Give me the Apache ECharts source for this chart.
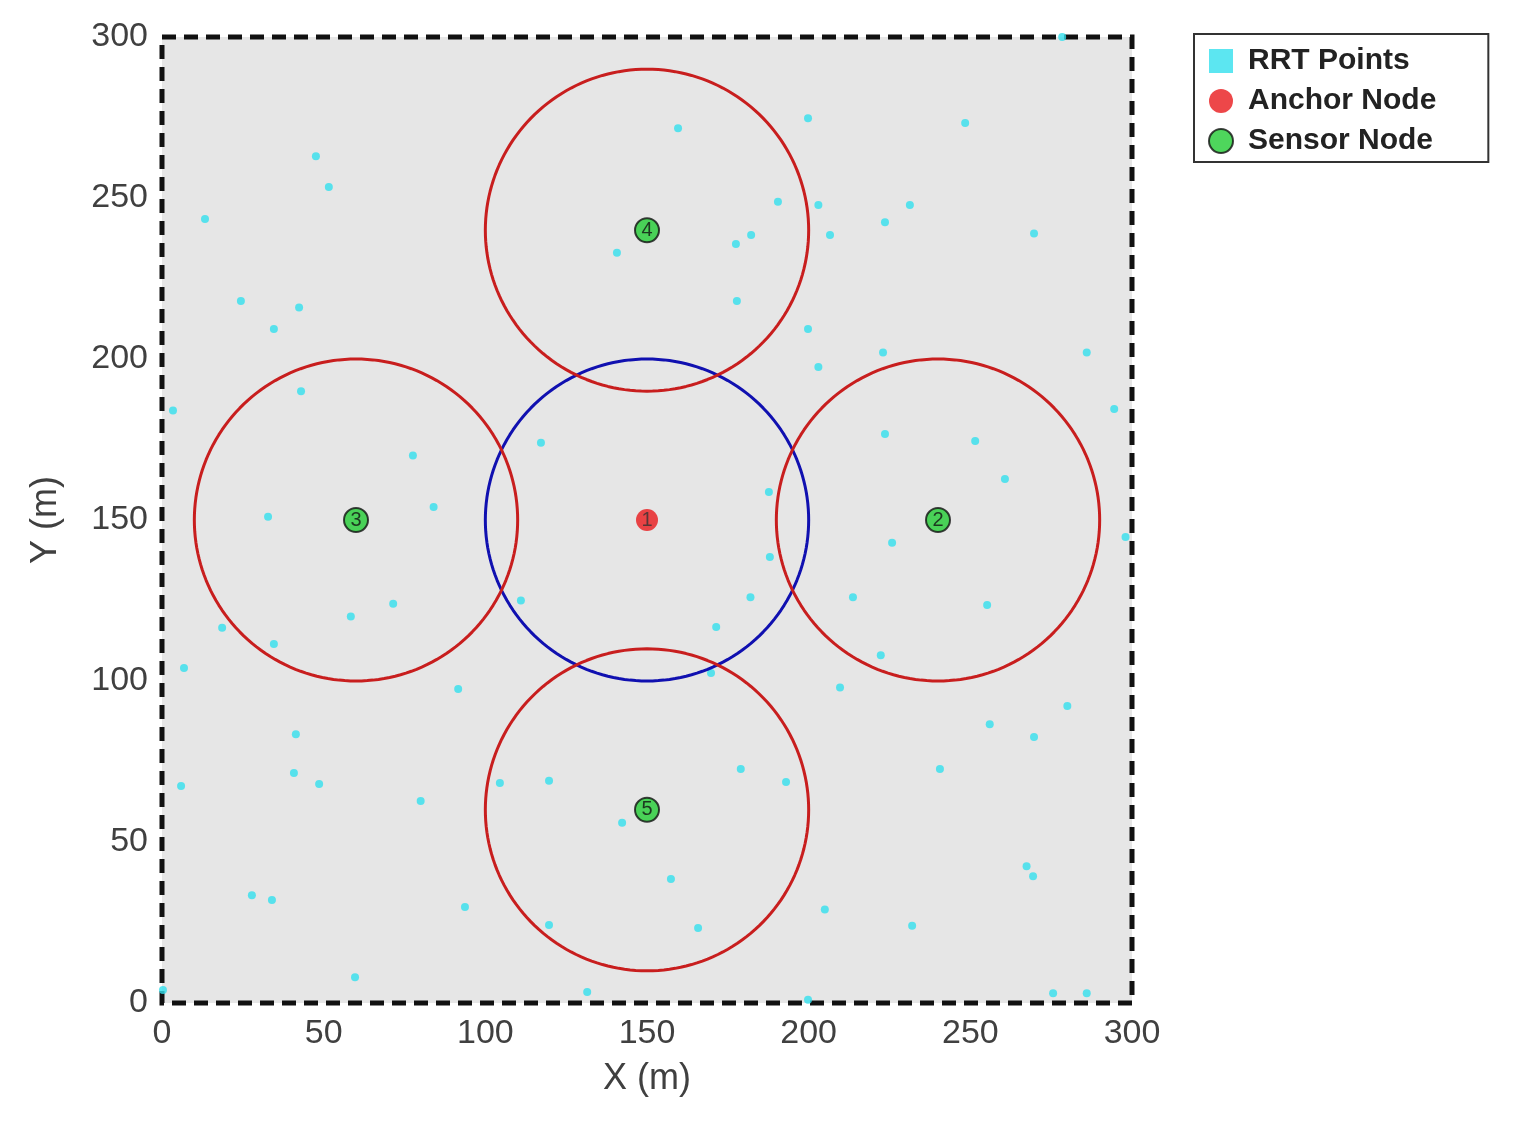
<!DOCTYPE html>
<html>
<head>
<meta charset="utf-8">
<script src="https://cdn.jsdelivr.net/npm/echarts@6/dist/echarts.min.js"></script>
<style>html,body{margin:0;padding:0;background:#fff}#chart{width:1540px;height:1139px}</style>
</head>
<body>
<div id="chart"></div>
<script>
// RRT sample points [x, y]
const rrtPoints = [
  [47.6,263],[51.6,253.4],[13.3,243.5],[24.4,218],[42.4,216],[34.6,209.3],[43,190],[3.4,184],
  [77.6,170],[84,154],[32.8,151],[71.5,124],[58.4,120],[34.6,111.5],[18.6,116.5],[6.8,104],
  [91.6,97.5],[41.4,83.5],[40.8,71.4],[48.6,68],[5.9,67.4],[80,62.7],[27.8,33.5],[34,32],
  [59.7,8],[0.3,4],[93.7,29.8],[104.5,68.3],[119.7,69],[119.7,24.2],[131.5,3.4],[142.3,56],
  [157.4,38.5],[165.8,23.3],[179,72.7],[193,68.6],[199.8,1],[205,29],[209.7,98],[169.8,102.5],
  [171.4,116.8],[182,126],[188,138.5],[187.7,158.7],[111,125],[117.2,174],[140.7,233],[159.6,271.7],
  [177.5,235.7],[182.2,238.5],[177.8,218],[190.5,248.8],[199.8,274.8],[203,247.8],[206.6,238.5],
  [199.8,209.3],[203,197.5],[223,202],[223.6,242.5],[231.3,247.8],[248.4,273.3],[269.7,239],
  [286,202],[294.5,184.5],[251.5,174.5],[223.6,176.7],[260.7,162.7],[225.8,142.9],[213.7,126],
  [255.2,123.6],[222.3,108],[298,144.7],[256,86.6],[269.7,82.6],[280,92.2],[240.6,72.7],
  [267.4,42.5],[269.4,39.4],[232,24],[275.6,3],[286,3],[278.4,300]
];
const anchorNodes = [[150,150,'1']];
const sensorNodes = [[240,150,'2'],[60,150,'3'],[150,240,'4'],[150,60,'5']];
const commRadius = 50;

function circle(cx, cy, r) {
  const pts = [];
  for (let i = 0; i <= 180; i++) {
    const a = i / 180 * Math.PI * 2;
    pts.push([cx + r * Math.cos(a), cy + r * Math.sin(a)]);
  }
  return pts;
}
function ring(c, color) {
  return {
    type: 'line', data: circle(c[0], c[1], commRadius), showSymbol: false, silent: true,
    lineStyle: { color: color, width: 3 }, z: 3
  };
}

const chart = echarts.init(document.getElementById('chart'));
const axisLbl = { color: '#404040', fontSize: 34, fontFamily: 'Arial' };
const option = {
  animation: false,
  grid: { left: 162, right: 408, top: 37, bottom: 136, show: true,
    backgroundColor: '#e6e6e6', borderColor: '#111', borderWidth: 5, borderType: [14, 8] },
  legend: {
    orient: 'vertical', left: 1194, top: 34, width: 326, padding: [12, 52, 6, 14], itemGap: 10,
    borderColor: '#333', borderWidth: 2, backgroundColor: '#fff',
    textStyle: { fontSize: 30, fontWeight: 'bold', color: '#222', fontFamily: 'Arial' },
    itemWidth: 44, itemHeight: 24,
    data: [
      { name: 'RRT Points', icon: 'path://M0,0h1v1h-1z', itemStyle: { color: '#33e0ee' } },
      { name: 'Anchor Node', icon: 'circle' },
      { name: 'Sensor Node', icon: 'circle' }
    ]
  },
  xAxis: { type: 'value', min: 0, max: 300, interval: 50, name: 'X (m)', nameLocation: 'middle', nameGap: 58,
    nameTextStyle: { fontSize: 36, color: '#404040' }, splitLine: { show: false },
    axisLine: { show: false }, axisTick: { show: false }, axisLabel: Object.assign({ margin: 14 }, axisLbl) },
  yAxis: { type: 'value', min: 0, max: 300, interval: 50, name: 'Y (m)', nameLocation: 'middle', nameGap: 98,
    nameTextStyle: { fontSize: 36, color: '#404040' }, splitLine: { show: false },
    axisLine: { show: false }, axisTick: { show: false }, axisLabel: Object.assign({ margin: 14 }, axisLbl) },
  series: [
    { name: 'RRT Points', type: 'scatter', data: rrtPoints, symbolSize: 8,
      itemStyle: { color: '#33e0ee' }, z: 2 },
    ring(anchorNodes[0], '#1010b0'),
    ...sensorNodes.map(s => ring(s, '#c81e1e')),
    { name: 'Anchor Node', type: 'scatter', data: anchorNodes, symbolSize: 22,
      itemStyle: { color: '#e8191b' }, z: 5,
      label: { show: true, formatter: p => p.data[2], position: 'inside', fontSize: 20, color: '#333' } },
    { name: 'Sensor Node', type: 'scatter', data: sensorNodes, symbolSize: 24,
      itemStyle: { color: '#22cc33', borderColor: '#111', borderWidth: 2 }, z: 5,
      label: { show: true, formatter: p => p.data[2], position: 'inside', fontSize: 20, color: '#111' } }
  ]
};
chart.setOption(option);
</script>
</body>
</html>
